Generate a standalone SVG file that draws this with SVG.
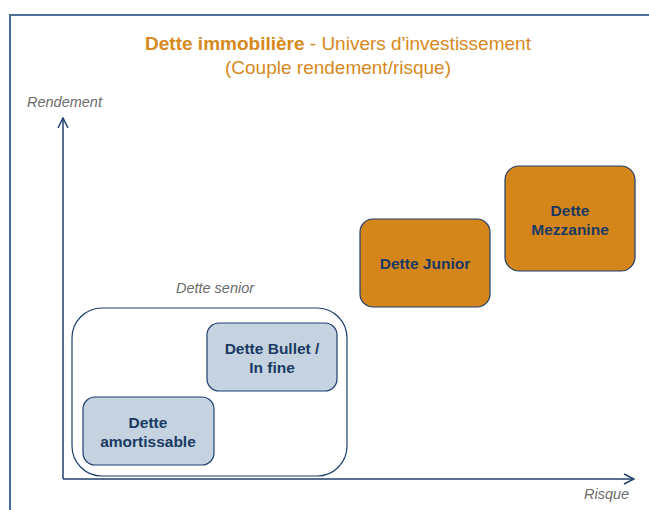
<svg xmlns="http://www.w3.org/2000/svg" width="649" height="510" viewBox="0 0 649 510">
  <style>
    .title { font-family: "Liberation Sans", Arial, sans-serif; font-size: 19px; fill: #d6891c; text-anchor: middle; }
    .axis-label { font-family: "Liberation Sans", Arial, sans-serif; font-size: 14.5px; font-style: italic; fill: #6b6b6b; }
    .node-text { font-family: "Liberation Sans", Arial, sans-serif; font-size: 15.5px; font-weight: bold; fill: #1b3a63; text-anchor: middle; }
    .blue-box { fill: #c4d3df; stroke: #1f3f6e; stroke-width: 1.2; }
    .orange-box { fill: #d4861a; stroke: #1f3f6e; stroke-width: 1.2; }
    .axis { stroke: #1f3f6e; stroke-width: 1.5; fill: none; }
  </style>
  <defs>
    <marker id="chevron" viewBox="0 0 12 12" refX="11" refY="6" markerWidth="12" markerHeight="12" markerUnits="userSpaceOnUse" orient="auto">
      <path d="M1,1 L11,6 L1,11" fill="none" stroke="#1f3f6e" stroke-width="1.5"/>
    </marker>
  </defs>

  <rect width="649" height="510" fill="#ffffff"/>
  <!-- outer frame -->
  <path d="M10,510 L10,15 L649,15" fill="none" stroke="#4a6f97" stroke-width="2"/>

  <!-- title -->
  <text class="title" x="338" y="50"><tspan font-weight="bold">Dette immobilière</tspan> - Univers d'investissement</text>
  <text class="title" x="338" y="74">(Couple rendement/risque)</text>

  <!-- axes -->
  <g id="connectors">
    <line class="axis" x1="63" y1="479" x2="63" y2="118" marker-end="url(#chevron)"/>
    <line class="axis" x1="63" y1="479" x2="634" y2="479" marker-end="url(#chevron)"/>
  </g>
  <text class="axis-label" x="27" y="107">Rendement</text>
  <text class="axis-label" x="584" y="499">Risque</text>

  <!-- senior debt group -->
  <g id="dette-senior">
    <text class="axis-label" x="215" y="293" text-anchor="middle">Dette senior</text>
    <rect x="72" y="308" width="275" height="168" rx="30" fill="#ffffff" stroke="#1f3f6e" stroke-width="1.2"/>
  </g>

  <g id="dette-bullet">
    <rect class="blue-box" x="207" y="323" width="130" height="68" rx="12"/>
    <text class="node-text" x="272" y="354">Dette Bullet /</text>
    <text class="node-text" x="272" y="373">In fine</text>
  </g>

  <g id="dette-amortissable">
    <rect class="blue-box" x="83" y="397" width="131" height="68" rx="12"/>
    <text class="node-text" x="148" y="428">Dette</text>
    <text class="node-text" x="148" y="447">amortissable</text>
  </g>

  <g id="dette-junior">
    <rect class="orange-box" x="360" y="219" width="130" height="88" rx="13"/>
    <text class="node-text" x="425" y="269">Dette Junior</text>
  </g>

  <g id="dette-mezzanine">
    <rect class="orange-box" x="505" y="166" width="130" height="105" rx="14"/>
    <text class="node-text" x="570" y="216">Dette</text>
    <text class="node-text" x="570" y="235">Mezzanine</text>
  </g>
</svg>
